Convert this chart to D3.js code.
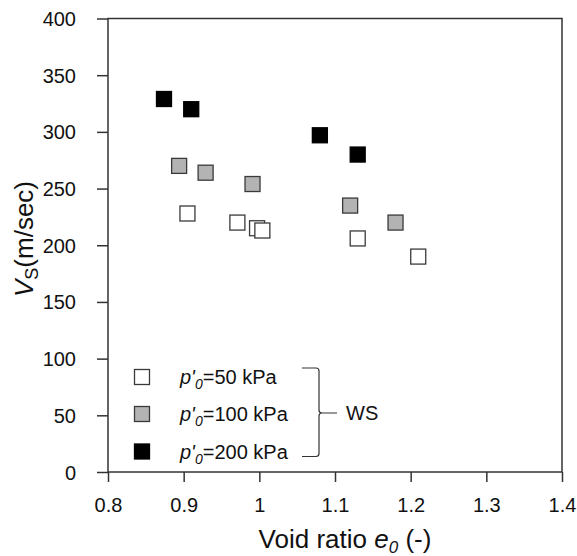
<!DOCTYPE html>
<html>
<head>
<meta charset="utf-8">
<script src="https://cdn.jsdelivr.net/npm/d3@7"></script>
<style>
  body { margin: 0; background: #fff; }
  text { font-family: "Liberation Sans", Arial, sans-serif; fill: #111; }
</style>
</head>
<body>
<div id="chart"></div>
<script>
// void ratio e0 vs shear wave velocity Vs
const pressures = ["50", "100", "200"];
const e50 = [0.905, 0.971, 0.997, 1.004, 1.13, 1.21];
const v50 = [228, 220, 215, 213, 206, 190];
const e100 = [0.894, 0.929, 0.991, 1.12, 1.18];
const v100 = [270, 264, 254, 235, 220];
const e200 = [0.874, 0.91, 1.08, 1.13];
const v200 = [329, 320, 297, 280];
const xTicks = [0.8, 0.9, 1, 1.1, 1.2, 1.3, 1.4];
const yTicks = [0, 50, 100, 150, 200, 250, 300, 350, 400];
const fills = ["#ffffff", "#b3b3b3", "#000000"];

const width = 577, height = 556;
const margin = {top: 18.5, right: 15, bottom: 84, left: 108};

const svg = d3.select("#chart").append("svg")
    .attr("width", width)
    .attr("height", height);

const x = d3.scaleLinear().domain([0.8, 1.4]).range([margin.left, width - margin.right]);
const y = d3.scaleLinear().domain([0, 400]).range([height - margin.bottom, margin.top]);

const axisColor = "#333";

// x axis
const gx = svg.append("g")
    .attr("transform", `translate(0,${y(0)})`)
    .call(d3.axisBottom(x).tickValues(xTicks).tickSize(10).tickPadding(16)
        .tickFormat(d => d3.format("")(d)));
gx.select(".domain").remove();
gx.selectAll("line").attr("stroke", axisColor).attr("stroke-width", 1.5);
gx.selectAll("text").style("font-size", "20px").attr("fill", "#111");

// y axis
const gy = svg.append("g")
    .attr("transform", `translate(${x(0.8)},0)`)
    .call(d3.axisLeft(y).tickValues(yTicks).tickSize(11).tickPadding(21));
gy.select(".domain").remove();
gy.selectAll("line").attr("stroke", axisColor).attr("stroke-width", 1.5);
gy.selectAll("text").style("font-size", "20px").attr("fill", "#111").attr("dy", "0.35em");

// frame
svg.append("rect")
    .attr("x", x(0.8))
    .attr("y", y(400))
    .attr("width", x(1.4) - x(0.8))
    .attr("height", y(0) - y(400))
    .attr("fill", "none")
    .attr("stroke", axisColor)
    .attr("stroke-width", 1.5);

// points
const size = 15;
const series = [
    {e: e50, v: v50, fill: fills[0]},
    {e: e100, v: v100, fill: fills[1]},
    {e: e200, v: v200, fill: fills[2]}
];
series.forEach(function(s) {
    svg.append("g").selectAll("rect")
        .data(s.e.map((d, i) => [d, s.v[i]]))
        .join("rect")
        .attr("x", d => x(d[0]) - size / 2)
        .attr("y", d => y(d[1]) - size / 2)
        .attr("width", size)
        .attr("height", size)
        .attr("fill", s.fill)
        .attr("stroke", s.fill === "#000000" ? "#000" : "#3a3a3a")
        .attr("stroke-width", 1.3);
});

// legend
const legY = [377, 414, 451.5];
const leg = svg.append("g");
pressures.forEach(function(p, i) {
    leg.append("rect")
        .attr("x", 142 - 7.5)
        .attr("y", legY[i] - 7.5)
        .attr("width", 15)
        .attr("height", 15)
        .attr("fill", fills[i])
        .attr("stroke", i === 2 ? "#000" : "#3a3a3a")
        .attr("stroke-width", 1.3);
    const t = leg.append("text")
        .attr("x", 180)
        .attr("y", legY[i] + 7)
        .style("font-size", "20px");
    t.append("tspan").style("font-style", "italic").text("p'");
    t.append("tspan").style("font-style", "italic").style("font-size", "14px")
        .attr("dy", 5).text("0");
    t.append("tspan").attr("dy", -5).text(`=${p} kPa`);
});

// bracket
const bx0 = 302, bx1 = 319, bTop = 368, bBot = 456.5, bMid = 413;
svg.append("path")
    .attr("d", `M${bx0},${bTop} L${bx1 - 3},${bTop} Q${bx1},${bTop} ${bx1},${bTop + 3}
        L${bx1},${bMid - 3} Q${bx1},${bMid} ${bx1 + 3},${bMid} L${bx1 + 18},${bMid}
        M${bx1 + 3},${bMid} Q${bx1},${bMid} ${bx1},${bMid + 3}
        L${bx1},${bBot - 3} Q${bx1},${bBot} ${bx1 - 3},${bBot} L${bx0},${bBot}`)
    .attr("fill", "none")
    .attr("stroke", "#333")
    .attr("stroke-width", 1.2);
svg.append("text")
    .attr("x", 346)
    .attr("y", 420)
    .style("font-size", "20px")
    .text("WS");

// axis titles
const xt = svg.append("text")
    .attr("x", 345)
    .attr("y", 547.5)
    .attr("text-anchor", "middle")
    .style("font-size", "26px");
xt.append("tspan").text("Void ratio ");
xt.append("tspan").style("font-style", "italic").text("e");
xt.append("tspan").style("font-style", "italic").style("font-size", "17px").attr("dy", 5).text("0");
xt.append("tspan").attr("dy", -5).text(" (-)");

const yt = svg.append("text")
    .attr("transform", "translate(33,239) rotate(-90)")
    .attr("text-anchor", "middle")
    .style("font-size", "26px");
yt.append("tspan").style("font-style", "italic").text("V");
yt.append("tspan").style("font-size", "18px").attr("dy", 5).text("S");
yt.append("tspan").attr("dy", -5).text("(m/sec)");
</script>
</body>
</html>
